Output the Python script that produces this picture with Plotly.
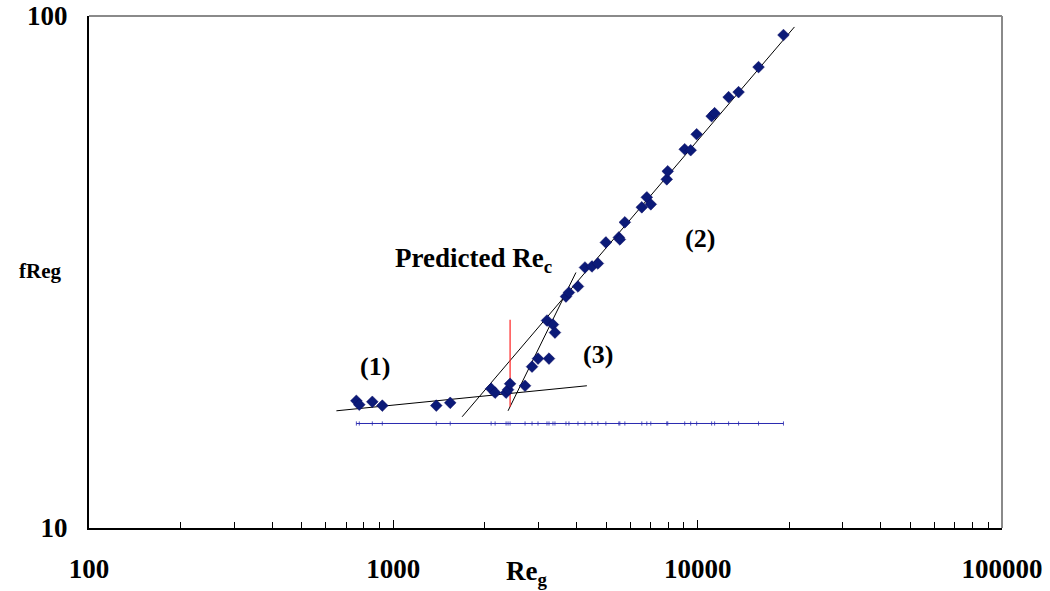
import plotly.graph_objects as go

# ---- data ----
reg = [756, 773, 853, 920, 1384, 1538, 2096, 2160, 2347, 2382, 2419, 2709,
       2856, 2988, 3247, 3198, 3346, 3397, 3692, 3776, 4043, 4262, 4494, 4700,
       4993, 5508, 5550, 5764, 6553, 6806, 7014, 7915, 7974, 9066, 9485, 9925,
       11114, 11368, 12637, 13627, 15849, 19142]
freg = [17.72, 17.41, 17.64, 17.34, 17.34, 17.56, 18.71, 18.38, 18.38, 18.63, 19.13, 18.96,
        20.66, 21.42, 21.42, 25.42, 24.96, 24.08, 28.32, 28.84, 29.63, 32.27, 32.42, 32.86,
        36.12, 36.94, 36.61, 39.54, 42.30, 44.24, 42.87, 47.97, 49.74, 54.92, 54.68, 58.75,
        63.73, 64.59, 69.42, 71.01, 79.47, 91.80]

fit1_x = [650, 4325]
fit1_y = [16.94, 18.96]
fit2_x = [1683, 20797]
fit2_y = [16.49, 95.2]
fit3_x = [2382, 3981]
fit3_y = [16.94, 31.55]
rec_x = [2419, 2419]
rec_y = [17.25, 25.5]
base_level = 16.0
base_y = [base_level] * len(reg)

x_ticks = [100, 1000, 10000, 100000]
x_ticktext = ["100", "1000", "10000", "100000"]
y_ticks = [10, 100]
y_ticktext = ["10", "100"]

FONT = "Liberation Serif"

fig = go.Figure()
fig.add_trace(go.Scatter(x=reg, y=base_y, mode="lines+markers",
                         line=dict(color="#2a2ab0", width=1),
                         marker=dict(symbol="line-ns", size=3,
                                     line=dict(color="#2a2ab0", width=0.8)),
                         showlegend=False))
for fx, fy in [(fit1_x, fit1_y), (fit2_x, fit2_y), (fit3_x, fit3_y)]:
    fig.add_trace(go.Scatter(x=fx, y=fy, mode="lines",
                             line=dict(color="black", width=1), showlegend=False))
fig.add_trace(go.Scatter(x=rec_x, y=rec_y, mode="lines",
                         line=dict(color="#ff2020", width=1.2), showlegend=False))
fig.add_trace(go.Scatter(x=reg, y=freg, mode="markers",
                         marker=dict(symbol="diamond", size=9, color="#0b1a78",
                                     line=dict(color="#0a0a60", width=0.5)),
                         showlegend=False))

fig.update_layout(
    width=1050, height=591,
    margin=dict(l=89, r=48, t=16, b=63, autoexpand=False),
    paper_bgcolor="white", plot_bgcolor="white",
    font=dict(family=FONT, size=26, color="black"),
    xaxis=dict(type="log", range=[2, 5], tickvals=x_ticks, ticktext=x_ticktext,
               automargin=False, ticklabeloverflow="allow",
               ticks="inside", ticklen=8, tickwidth=1, tickcolor="black",
               showline=True, linecolor="black", linewidth=2,
               showgrid=False, zeroline=False,
               tickfont=dict(family=FONT, size=27, color="black", weight="bold"),
               ticklabelstandoff=16,
               minor=dict(ticks="inside", ticklen=6, tickwidth=1, tickcolor="black",
                          dtick="D1", showgrid=False)),
    yaxis=dict(type="log", range=[1, 2], tickvals=y_ticks, ticktext=y_ticktext,
               automargin=False, ticklabeloverflow="allow",
               ticks="inside", ticklen=8, tickwidth=1, tickcolor="black",
               showline=True, linecolor="black", linewidth=2,
               showgrid=False, zeroline=False,
               tickfont=dict(family=FONT, size=27, color="black", weight="bold"),
               ticklabelstandoff=14),
)

# top/right frame (gray)
fig.add_shape(type="line", xref="paper", yref="paper", x0=0, x1=1, y0=1, y1=1,
              line=dict(color="#8a8a8a", width=2))
fig.add_shape(type="line", xref="paper", yref="paper", x0=1, x1=1, y0=0, y1=1,
              line=dict(color="#8a8a8a", width=2))

def ann(text, x, y, size, xanchor="center", yanchor="middle"):
    fig.add_annotation(text=text, x=x, y=y, xref="paper", yref="paper",
                       showarrow=False, xanchor=xanchor, yanchor=yanchor,
                       font=dict(family=FONT, size=size, color="black", weight="bold"))

ann("(1)", 0.3133, 0.3145, 26)
ann("(2)", 0.6692, 0.5664, 26)
ann("(3)", 0.5575, 0.3398, 26)
ann("Predicted Re<sub>c</sub>", 0.333, 0.524, 27, xanchor="left")
ann("fReg", -0.0285, 0.502, 21, xanchor="right")
ann("Re<sub>g</sub>", 0.479, -0.05, 27, yanchor="top")

fig.write_html("out.html",
               config={"displayModeBar": False, "staticPlot": True},
               post_script="document.body.style.margin='0';document.body.style.overflow='hidden';")
